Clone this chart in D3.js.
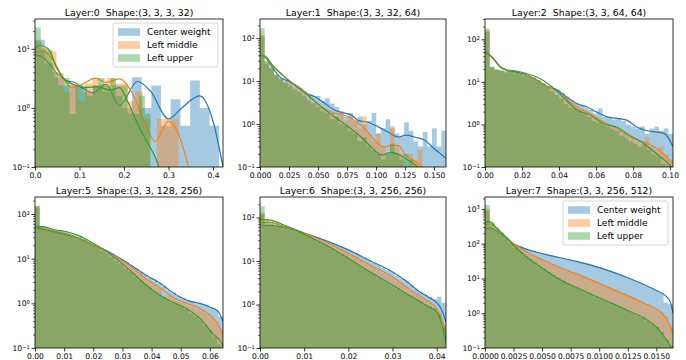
<!DOCTYPE html>
<html>
<head>
<meta charset="utf-8">
<script src="https://cdn.jsdelivr.net/npm/d3@7"></script>
<style>
  body { margin: 0; background: #fff; }
  text { font-family: "DejaVu Sans", sans-serif; }
</style>
</head>
<body>
<svg id="chart" width="686" height="360"></svg>
<script>
// ---- data ----
const titles = [
  "Layer:0  Shape:(3, 3, 3, 32)",
  "Layer:1  Shape:(3, 3, 32, 64)",
  "Layer:2  Shape:(3, 3, 64, 64)",
  "Layer:5  Shape:(3, 3, 128, 256)",
  "Layer:6  Shape:(3, 3, 256, 256)",
  "Layer:7  Shape:(3, 3, 256, 512)"
];
const seriesNames = ["Center weight", "Left middle", "Left upper"];

const xMax = [0.4225, 0.1603, 0.1016, 0.0645, 0.0421, 0.01646];
const yMax = [32, 280, 300, 240, 295, 2200];

const xTicks = [
  [0, 0.1, 0.2, 0.3, 0.4],
  [0, 0.025, 0.05, 0.075, 0.1, 0.125, 0.15],
  [0, 0.02, 0.04, 0.06, 0.08, 0.1],
  [0, 0.01, 0.02, 0.03, 0.04, 0.05, 0.06],
  [0, 0.01, 0.02, 0.03, 0.04],
  [0, 0.0025, 0.005, 0.0075, 0.01, 0.0125, 0.015]
];
const xFormats = [".1f", ".3f", ".2f", ".2f", ".2f", ".4f"];
const yTicks = [
  [0.1, 1, 10],
  [0.1, 1, 10, 100],
  [0.1, 1, 10, 100],
  [0.1, 1, 10, 100],
  [0.1, 1, 10, 100],
  [0.1, 1, 10, 100, 1000]
];

// histogram range end (bins start at 0) and bar heights (density)
const centerEnd = [0.414, 0.1603, 0.1016, 0.0645, 0.0421, 0.01646];
const middleEnd = [0.3225, 0.14, 0.1016, 0.0645, 0.0421, 0.01646];
const upperEnd = [0.26, 0.132, 0.1, 0.064, 0.0421, 0.0165];

const centerBars = [
  [14.3, 5.7, 3.3, 2.4, 2.4, 1.9, 2.4, 1.9, 2.4, 1.0, 3.3, 1.0, 2.4, 0.5, 1.4, 0.5, 2.9, 1.0, 0.5],
  [110, 25, 20, 14, 12, 10, 9, 8, 7, 6, 5, 4.5, 4.5, 3.5, 4, 3, 2.5, 2.0, 1.5, 1.8, 1.2, 1.5, 1.0, 1.2, 1.8, 0.6, 0.8, 1.3, 0.8, 0.6, 0.5, 1.1, 0.7, 0.4, 0.3, 0.65, 0.3, 0.8, 0.3, 0.7],
  [150, 22, 19, 18, 17, 17, 16, 15, 14, 13, 12, 10, 9, 8, 7, 6.5, 5.5, 4.5, 3.8, 3.2, 2.8, 2.5, 2.2, 1.8, 2.4, 1.5, 1.5, 1.3, 1.4, 1.2, 1.0, 0.9, 0.8, 0.9, 0.6, 0.8, 0.9, 0.7, 0.8, 0.6],
  [140, 46, 43, 41, 39, 37, 35, 32, 30, 28, 26, 23, 20, 18, 16, 14.5, 13, 11, 9.6, 8.3, 7, 6, 5, 4.3, 3.7, 3.2, 2.8, 2.4, 2.0, 1.7, 1.45, 1.3, 1.15, 1.1, 1.0, 0.95, 0.9, 0.8, 0.7, 0.5],
  [120, 66, 65, 63, 61, 58, 55, 52, 49, 44, 41, 37, 34, 31, 28, 26, 23, 21, 19, 17, 15, 13.5, 12, 10.5, 9, 8, 7, 6.2, 5.5, 4.6, 3.9, 3.4, 2.8, 2.3, 2.0, 1.7, 1.5, 1.3, 1.5, 1.1],
  [900, 280, 220, 175, 140, 112, 95, 84, 74, 66, 60, 55, 50, 47, 44, 41, 38, 36, 34, 31, 29, 27, 25, 23, 21, 19, 17, 15, 13.5, 12, 10.5, 9.2, 8, 7, 6, 5.2, 4.5, 3.8, 2.0, 1.8]
];
const middleBars = [
  [13, 10.4, 9, 3.9, 1.9, 2.6, 1.3, 2.6, 3.2, 2.6, 3.2, 2.6, 2.6, 1.3, 1.9, 0.65, 0, 0.65, 0.65, 0.65],
  [120, 28, 20, 14, 11, 10, 9, 7, 6, 5, 4, 3.2, 3, 2.5, 2, 1.8, 1.5, 1.8, 1.2, 1.5, 1.2, 0.8, 1.5, 0.6, 0.4, 0.6, 0.3, 0.2, 0.9, 0.3, 0.2, 0.1, 0.2, 0.15, 0.25],
  [160, 22, 19, 18, 16, 16, 15, 14, 13, 12, 11, 10, 8.5, 7.5, 6.5, 5, 4.5, 3.5, 3, 2.6, 2.3, 2, 1.6, 1.4, 1.2, 1.0, 0.9, 0.8, 0.7, 0.6, 0.45, 0.5, 0.4, 0.35, 0.5, 0.3, 0.25, 0.3, 0.2, 0.15],
  [150, 49, 46, 43, 40, 38, 36, 33, 30, 28, 25, 22, 20, 18, 16, 14, 12, 10.5, 9, 7.6, 6.4, 5.3, 4.4, 3.6, 3.0, 2.5, 2.2, 1.4, 1.5, 1.3, 1.1, 1.0, 0.9, 0.85, 0.75, 0.7, 0.6, 0.5, 0.4, 0.25],
  [130, 77, 72, 68, 64, 60, 56, 52, 47, 43, 39, 35, 31, 28, 26, 23, 20, 18, 16, 14.5, 13, 11, 9.5, 8.3, 7.2, 6.2, 5.3, 4.7, 4.0, 3.4, 2.9, 2.5, 2.1, 1.8, 1.5, 1.3, 1.1, 0.9, 0.7, 0.35],
  [1000, 360, 260, 200, 150, 115, 92, 75, 62, 52, 45, 39, 34, 30, 26, 22, 19.5, 17, 15, 13.5, 12, 10.5, 9.3, 8.2, 7.2, 6.3, 5.5, 4.8, 4.2, 3.7, 3.2, 2.8, 2.4, 2.1, 1.8, 1.5, 1.3, 1.1, 0.8, 0.45]
];
const upperBars = [
  [23, 10, 9.6, 4, 2.4, 3.2, 0.8, 2.4, 2.4, 1.6, 2.4, 3.2, 2.4, 3.2, 1.6, 2.4, 0.8, 0.8, 1.6, 0.8],
  [170, 30, 21, 14, 11, 9, 7.5, 6.5, 5.5, 4.5, 3.5, 3, 2.5, 2, 1.8, 1.3, 1.5, 1.0, 0.9, 0.7, 0.6, 0.4, 0.5, 0.3, 0.25, 0.2, 0.15, 0.2, 0.35, 0.2, 0.15, 0.2, 0.15],
  [180, 23, 20, 19, 18, 18, 17, 16, 15, 14, 13, 11, 9.5, 8, 6, 5, 4, 3, 2.5, 2.2, 2.0, 1.8, 1.5, 1.2, 1.1, 1.0, 0.9, 0.8, 0.7, 0.55, 0.5, 0.4, 0.35, 0.3, 0.35, 0.25, 0.2, 0.18, 0.12, 0.11],
  [150, 53, 50, 47, 44, 42, 40, 37, 34, 31, 27, 24, 21, 18, 15, 13, 11, 9, 7.5, 6, 5, 4, 3.3, 2.7, 2.3, 1.9, 1.6, 1.4, 1.2, 1.05, 0.95, 0.85, 0.75, 0.6, 0.5, 0.42, 0.33, 0.25, 0.18, 0.12],
  [180, 88, 80, 74, 68, 62, 56, 51, 46, 41, 37, 32, 28, 25, 22, 19, 16, 14, 12, 10.5, 9, 7.7, 6.6, 5.8, 5.0, 4.2, 3.6, 3.1, 2.7, 2.3, 2.0, 1.7, 1.5, 1.3, 1.2, 1.0, 0.9, 0.8, 0.6, 0.3],
  [1300, 420, 290, 210, 150, 105, 78, 58, 45, 36, 29, 23, 19, 15.5, 12.5, 10.5, 8.8, 7.4, 6.3, 5.4, 4.7, 4.0, 3.5, 3.0, 2.6, 2.3, 2.0, 1.7, 1.5, 1.3, 1.15, 1.0, 0.85, 0.75, 0.6, 0.5, 0.4, 0.3, 0.18, 0.12]
];

// KDE curves as [x, density] samples
const centerKde = [
  [[0, 8], [0.02, 7], [0.05, 3.8], [0.08, 2.6], [0.1, 2.3], [0.13, 1.8], [0.16, 2.5], [0.19, 1.1], [0.23, 2.8], [0.26, 1.9], [0.3, 0.65], [0.33, 1.0], [0.37, 1.6], [0.4, 0.6], [0.4225, 0.1]],
  [[0, 40], [0.004, 37], [0.01, 22], [0.017, 12.6], [0.024, 10], [0.033, 7.4], [0.04, 5.2], [0.047, 4.4], [0.056, 3.0], [0.0645, 2.1], [0.073, 1.8], [0.079, 1.6], [0.085, 1.2], [0.093, 1.1], [0.102, 0.86], [0.11, 0.66], [0.119, 0.5], [0.126, 0.55], [0.133, 0.5], [0.142, 0.42], [0.15, 0.27], [0.1603, 0.16]],
  [[0, 51], [0.0045, 35], [0.008, 23], [0.0117, 19], [0.017, 17], [0.0225, 14.5], [0.028, 11], [0.033, 8], [0.039, 6.4], [0.044, 4.5], [0.0495, 3.1], [0.055, 2.6], [0.06, 2.0], [0.066, 1.5], [0.071, 1.4], [0.0766, 1.26], [0.082, 0.87], [0.087, 0.72], [0.093, 0.66], [0.097, 0.61], [0.1016, 0.3]],
  [[0, 49], [0.0029, 45], [0.0063, 40], [0.0109, 34], [0.0154, 28], [0.02, 20], [0.0246, 15], [0.029, 10.3], [0.0337, 6.6], [0.038, 4.3], [0.043, 2.8], [0.046, 2.0], [0.0497, 1.4], [0.053, 1.12], [0.0566, 1.0], [0.06, 0.83], [0.0629, 0.65], [0.0645, 0.39]],
  [[0, 65], [0.002, 66], [0.005, 60], [0.008, 52], [0.01, 44], [0.015, 29], [0.02, 18], [0.025, 10], [0.03, 5.6], [0.033, 3.5], [0.036, 2.0], [0.038, 1.5], [0.04, 1.1], [0.041, 0.8], [0.0421, 0.4]],
  [[0, 260], [0.0004, 290], [0.001, 230], [0.0018, 150], [0.0025, 100], [0.0035, 72], [0.005, 52], [0.0065, 40], [0.008, 31], [0.0095, 23], [0.011, 16], [0.0125, 10.5], [0.014, 6.5], [0.015, 4.5], [0.0158, 3.2], [0.0162, 2.2], [0.01646, 1.0]]
];
const middleKde = [
  [[0, 8.5], [0.02, 9], [0.04, 6.5], [0.06, 3.5], [0.085, 2.2], [0.11, 2.6], [0.135, 3.2], [0.16, 2.7], [0.19, 3.1], [0.22, 1.7], [0.245, 0.6], [0.27, 0.27], [0.3, 0.6], [0.32, 0.4], [0.345, 0.1], [0.355, 0.05]],
  [[0, 40], [0.004, 38], [0.01, 24], [0.024, 11], [0.039, 5.6], [0.053, 2.5], [0.064, 1.8], [0.073, 1.6], [0.082, 1.2], [0.09, 0.79], [0.099, 0.42], [0.107, 0.29], [0.113, 0.32], [0.119, 0.32], [0.125, 0.2], [0.136, 0.12], [0.14, 0.1], [0.15, 0.06]],
  [[0, 51], [0.0045, 35], [0.008, 23], [0.0117, 18.5], [0.017, 16], [0.0225, 14], [0.028, 11], [0.033, 8], [0.039, 6], [0.0495, 2.6], [0.0568, 1.8], [0.064, 1.15], [0.071, 0.8], [0.078, 0.51], [0.0856, 0.39], [0.093, 0.27], [0.1016, 0.12]],
  [[0, 53], [0.0029, 48], [0.0063, 42], [0.0109, 36], [0.0154, 28], [0.02, 20], [0.0246, 14.5], [0.029, 9.8], [0.0337, 6.1], [0.038, 3.6], [0.043, 2.2], [0.047, 1.4], [0.052, 1.0], [0.0566, 0.77], [0.06, 0.55], [0.0623, 0.38], [0.0645, 0.2]],
  [[0, 75], [0.002, 78], [0.005, 65], [0.008, 52], [0.01, 43], [0.015, 27], [0.02, 15], [0.025, 8], [0.03, 4.3], [0.033, 2.6], [0.036, 1.6], [0.038, 1.2], [0.04, 0.8], [0.041, 0.5], [0.0421, 0.23]],
  [[0, 330], [0.0004, 380], [0.001, 270], [0.0018, 160], [0.0025, 100], [0.0035, 62], [0.005, 35], [0.0065, 21], [0.008, 13.5], [0.0095, 8.5], [0.011, 5.2], [0.0125, 3.2], [0.014, 1.9], [0.0155, 1.0], [0.016, 0.6], [0.01646, 0.25]]
];
const upperKde = [
  [[0, 10], [0.01, 11.5], [0.03, 10], [0.05, 4.6], [0.07, 2.9], [0.09, 2.7], [0.11, 2.2], [0.14, 2.3], [0.17, 2.0], [0.19, 2.2], [0.21, 1.2], [0.23, 0.55], [0.25, 0.28], [0.275, 0.12], [0.29, 0.05]],
  [[0, 40], [0.004, 39], [0.01, 25], [0.024, 10.7], [0.039, 5.2], [0.053, 2.5], [0.064, 1.5], [0.076, 0.87], [0.087, 0.5], [0.096, 0.29], [0.105, 0.19], [0.113, 0.22], [0.119, 0.2], [0.125, 0.16], [0.136, 0.1], [0.145, 0.06]],
  [[0, 51], [0.0045, 36], [0.008, 23], [0.0117, 19], [0.017, 18], [0.0225, 15.5], [0.028, 13], [0.035, 8.4], [0.042, 4.5], [0.0495, 2.2], [0.057, 1.65], [0.064, 1.05], [0.071, 0.87], [0.078, 0.56], [0.0856, 0.36], [0.093, 0.2], [0.1, 0.11], [0.1016, 0.09]],
  [[0, 53], [0.0029, 52], [0.0063, 45], [0.0109, 40], [0.0154, 32], [0.02, 22], [0.0246, 14.5], [0.029, 8.7], [0.0337, 4.7], [0.038, 2.6], [0.043, 1.5], [0.047, 1.08], [0.052, 0.77], [0.0566, 0.46], [0.061, 0.21], [0.064, 0.13], [0.0645, 0.11]],
  [[0, 90], [0.002, 88], [0.005, 70], [0.008, 52], [0.01, 41], [0.015, 23], [0.02, 11.5], [0.025, 5.5], [0.03, 2.8], [0.033, 1.8], [0.036, 1.2], [0.038, 0.9], [0.04, 0.68], [0.041, 0.4], [0.0421, 0.14]],
  [[0, 400], [0.0004, 430], [0.001, 290], [0.0018, 160], [0.0025, 90], [0.0035, 45], [0.005, 20], [0.0065, 9.5], [0.008, 5.5], [0.0095, 3.3], [0.011, 2.0], [0.0125, 1.2], [0.014, 0.7], [0.015, 0.4], [0.016, 0.15], [0.0165, 0.08]]
];

// ---- layout ----
const colors = ["#1f77b4", "#ff7f0e", "#2ca02c"];
const cols = [[35, 223], [260, 446], [485, 673]];
const rows = [[19, 167], [197, 348]];
const tickFont = 7.6;
const svg = d3.select("#chart");

// legend in the upper right corner of a panel
function drawLegend(g, x1, y0) {
  const w = 105, h = 44;
  const lg = g.append("g").attr("transform", `translate(${x1 - 5 - w},${y0 + 4})`);
  lg.append("rect")
    .attr("width", w).attr("height", h).attr("rx", 2)
    .attr("fill", "#fff").attr("fill-opacity", 0.8)
    .attr("stroke", "#cccccc").attr("stroke-width", 0.8);
  seriesNames.forEach((name, s) => {
    const cy = 9 + s * 13;
    lg.append("rect")
      .attr("x", 5).attr("y", cy - 3.8).attr("width", 22).attr("height", 7.6)
      .attr("fill", colors[s]).attr("fill-opacity", 0.4);
    lg.append("text")
      .attr("x", 34).attr("y", cy).attr("dy", "0.35em")
      .attr("font-size", 9).text(name);
  });
}

titles.forEach((title, p) => {
  const [x0, x1] = cols[p % 3];
  const [y0, y1] = rows[Math.floor(p / 3)];
  const x = d3.scaleLinear().domain([0, xMax[p]]).range([x0, x1]);
  const y = d3.scaleLog().domain([0.1, yMax[p]]).range([y1, y0]);

  const g = svg.append("g").attr("class", "panel");
  g.append("clipPath").attr("id", "clip" + p)
    .append("rect").attr("x", x0).attr("y", y0).attr("width", x1 - x0).attr("height", y1 - y0);
  const plot = g.append("g").attr("clip-path", `url(#clip${p})`);

  const series = [
    [centerBars[p], centerEnd[p], centerKde[p]],
    [middleBars[p], middleEnd[p], middleKde[p]],
    [upperBars[p], upperEnd[p], upperKde[p]]
  ];

  series.forEach(([bars, end, kde], s) => {
    // histogram as one step outline so neighbouring bars have no seams
    const w = end / bars.length;
    const pts = [[x(0), y1]];
    bars.forEach((v, i) => {
      const top = v >= 0.1 ? y(v) : y1;
      pts.push([x(i * w), top], [x((i + 1) * w), top]);
    });
    pts.push([x(end), y1]);
    plot.append("path")
      .attr("d", d3.line()(pts) + "Z")
      .attr("fill", colors[s])
      .attr("fill-opacity", 0.4);

    plot.append("path")
      .datum(kde)
      .attr("d", d3.line()
        .x(d => x(d[0]))
        .y(d => y(d[1]))
        .curve(d3.curveMonotoneX))
      .attr("fill", "none")
      .attr("stroke", colors[s])
      .attr("stroke-width", 1.2);
  });

  // x axis
  const gx = g.append("g")
    .attr("transform", `translate(0,${y1})`)
    .call(d3.axisBottom(x).tickValues(xTicks[p]).tickFormat(d3.format(xFormats[p]))
      .tickSize(3.5).tickPadding(2));
  gx.select(".domain").remove();
  gx.attr("font-size", tickFont).attr("font-family", "DejaVu Sans, sans-serif");
  gx.selectAll(".tick line").attr("stroke-width", 0.8);

  // y axis: minor ticks, then decades with 10^n labels
  const minors = y.ticks().filter(v => Math.abs(Math.log10(v) - Math.round(Math.log10(v))) > 1e-6);
  const gm = g.append("g")
    .attr("transform", `translate(${x0},0)`)
    .call(d3.axisLeft(y).tickValues(minors).tickSize(2).tickFormat(""));
  gm.select(".domain").remove();
  gm.selectAll(".tick line").attr("stroke-width", 0.6);

  const gy = g.append("g")
    .attr("transform", `translate(${x0},0)`)
    .call(d3.axisLeft(y).tickValues(yTicks[p]).tickSize(3.5).tickPadding(1.5));
  gy.select(".domain").remove();
  gy.attr("font-size", tickFont).attr("font-family", "DejaVu Sans, sans-serif");
  gy.selectAll(".tick line").attr("stroke-width", 0.8);
  gy.selectAll(".tick text").text(null).each(function (d) {
    const t = d3.select(this);
    t.append("tspan").text("10");
    t.append("tspan")
      .attr("dy", "-0.45em")
      .attr("font-size", "0.7em")
      .text(String(Math.round(Math.log10(d))).replace("-", "\u2212"));
  });

  // frame
  g.append("rect")
    .attr("x", x0).attr("y", y0).attr("width", x1 - x0).attr("height", y1 - y0)
    .attr("fill", "none").attr("stroke", "#000").attr("stroke-width", 0.8);

  // title (keeps the double space)
  g.append("text")
    .attr("x", (x0 + x1) / 2).attr("y", y0 - 3.5)
    .attr("text-anchor", "middle")
    .attr("font-size", 9.4)
    .style("white-space", "pre")
    .text(title);

  if (p === 0 || p === 5) drawLegend(g, x1, y0);
});
</script>
</body>
</html>
